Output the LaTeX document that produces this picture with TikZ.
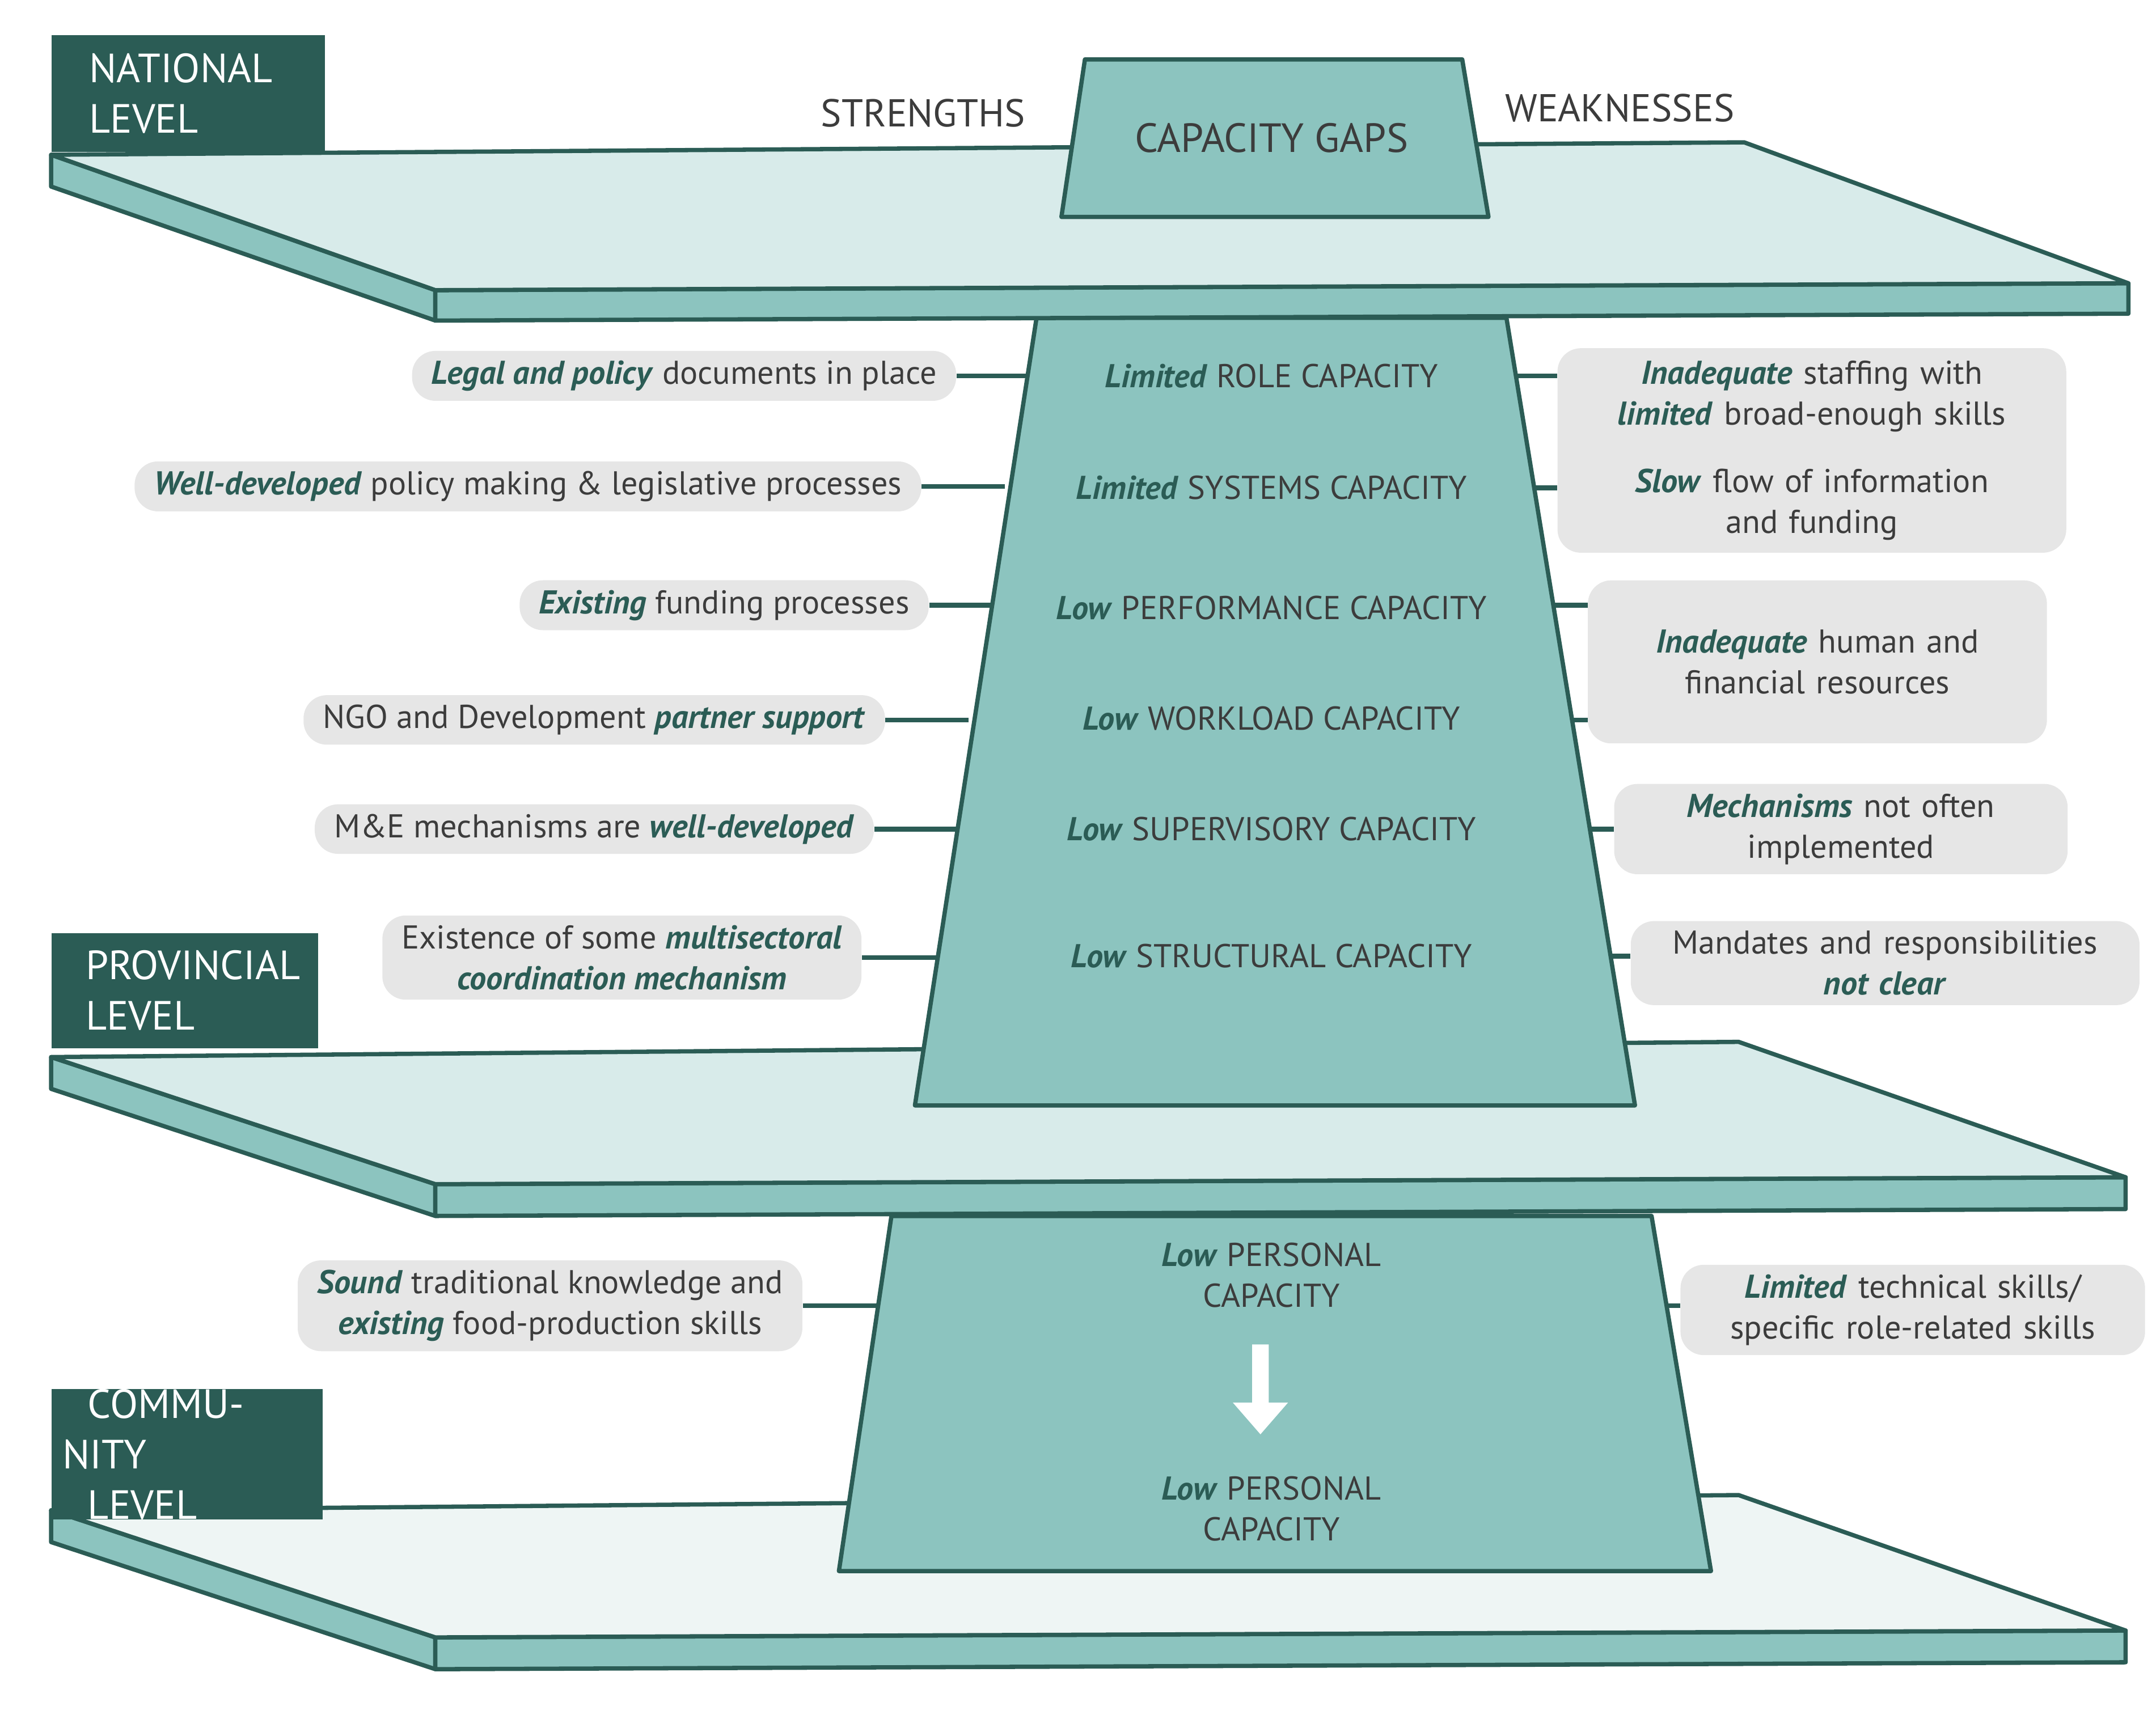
\documentclass[tikz,border=0pt]{standalone}
\usepackage{fontspec}
\setmainfont{PT Sans}
\usetikzlibrary{positioning, calc}
\definecolor{deepteal}{HTML}{2B5C55}
\definecolor{midteal}{HTML}{8CC4BF}
\definecolor{paleteal}{HTML}{D8EBEA}
\definecolor{whiteteal}{HTML}{EEF5F4}
\definecolor{pillgray}{HTML}{E6E6E6}
\definecolor{txtgray}{HTML}{3C3C3C}
\newcommand{\hl}[1]{\textcolor{deepteal}{\textbf{\textit{#1}}}}

\begin{document}
\begin{tikzpicture}[x=0.25mm, y=-0.25mm,
        font=\fontsize{17}{21}\selectfont,
        plate/.style={draw=deepteal, line width=2.2pt, line join=round},
        trap/.style={draw=deepteal, fill=midteal, line width=2.2pt, line join=round},
        pill/.style={fill=pillgray, rounded corners=12pt, text=txtgray, align=center, inner xsep=10pt, inner ysep=5pt},
        level/.style={fill=deepteal, text=white, align=left, font=\fontsize{21}{26}\selectfont, inner sep=0pt, anchor=north west},
        gaptext/.style={text=txtgray, align=center},
        link/.style={draw=deepteal, line width=2.5pt}
    ]
        \useasboundingbox (0,0) rectangle (1560,1244);

        % Provincial and community plates
        \foreach \t/\c in {765/paleteal, 1093/whiteteal}{
            \filldraw[plate, fill=midteal] (37,\t) -- (315,\t+92) -- (315,\t+115) -- (37,\t+23) -- cycle;
            \filldraw[plate, fill=midteal] (315,\t+92) -- (1538,\t+87) -- (1538,\t+110) -- (315,\t+115) -- cycle;
            \filldraw[plate, fill=\c] (37,\t) -- (1258,\t-11) -- (1538,\t+87) -- (315,\t+92) -- cycle;
        }

        % Strengths
        \node[pill] (s1) at (495,272) {\hl{Legal and policy} documents in place};
        \node[pill] (s2) at (382,352) {\hl{Well-developed} policy making \& legislative processes};
        \node[pill] (s3) at (524,438) {\hl{Existing} funding processes};
        \node[pill] (s4) at (430,521) {NGO and Development \hl{partner support}};
        \node[pill] (s5) at (430,600) {M\&E mechanisms are \hl{well-developed}};
        \node[pill] (s6) at (450,693) {Existence of some \hl{multisectoral}\\\hl{coordination mechanism}};
        \node[pill] (s7) at (398,945) {\hl{Sound} traditional knowledge and\\\hl{existing} food-production skills};

        % Weaknesses
        \node[pill, text width=85mm, minimum height=37mm] (w1) at (1311,326) {\hl{Inadequate} staffing with\\\hl{limited} broad-enough skills\\[14pt]\hl{Slow} flow of information\\and funding};
        \node[pill, text width=76mm, minimum height=29.5mm] (w2) at (1315,479) {\hl{Inadequate} human and\\financial resources};
        \node[pill, text width=75mm] (w3) at (1332,600) {\hl{Mechanisms} not often\\implemented};
        \node[pill, text width=85mm] (w4) at (1364,697) {Mandates and responsibilities\\\hl{not clear}};
        \node[pill, text width=77mm] (w5) at (1384,948) {\hl{Limited} technical skills/\\specific role-related skills};

        % Connectors, hidden under the trapezoids
        \foreach \s in {s1,s2,s3,s4,s5,s6,s7}
            \draw[link] (\s.east) -- ++(60,0);
        \foreach \w/\y in {w1/272, w1/353, w2/438, w2/521, w3/600, w4/692, w5/945}{
            \coordinate (e\y) at (\w.west |- 0,\y);
            \draw[link] (e\y) -- ++(-60,0);
        }

        % Trapezoids
        \filldraw[trap] (750,230) -- (1090,230) -- (1183,800) -- (662,800) -- cycle;
        \filldraw[trap] (645,880) -- (1195,880) -- (1238,1137) -- (607,1137) -- cycle;

        % National plate
        \filldraw[plate, fill=midteal] (37,112) -- (315,210) -- (315,232) -- (37,135) -- cycle;
        \filldraw[plate, fill=midteal] (315,210) -- (1540,205) -- (1540,227) -- (315,232) -- cycle;
        \filldraw[plate, fill=paleteal] (37,112) -- (1262,103) -- (1540,205) -- (315,210) -- cycle;
        \filldraw[trap] (785,43) -- (1058,43) -- (1077,157) -- (768,157) -- cycle;

        % Texts
        \node[gaptext, font=\fontsize{21}{26}\selectfont] (gaps) at (920,100) {CAPACITY GAPS};
        \node[gaptext, font=\fontsize{20}{24}\selectfont] (str) at (668,82) {STRENGTHS};
        \node[gaptext, font=\fontsize{20}{24}\selectfont] (wk) at (1172,78) {WEAKNESSES};
        \node[gaptext] (c1) at (920,272) {\hl{Limited} ROLE CAPACITY};
        \node[gaptext] (c2) at (920,353) {\hl{Limited} SYSTEMS CAPACITY};
        \node[gaptext] (c3) at (920,440) {\hl{Low} PERFORMANCE CAPACITY};
        \node[gaptext] (c4) at (920,520) {\hl{Low} WORKLOAD CAPACITY};
        \node[gaptext] (c5) at (920,600) {\hl{Low} SUPERVISORY CAPACITY};
        \node[gaptext] (c6) at (920,692) {\hl{Low} STRUCTURAL CAPACITY};
        \node[gaptext] (p1) at (920,923) {\hl{Low} PERSONAL\\CAPACITY};
        \node[gaptext] (p2) at (920,1092) {\hl{Low} PERSONAL\\CAPACITY};
        \fill[white] (906,973) -- (918,973) -- (918,1015) -- (932,1015) -- (912,1038) -- (892,1015) -- (906,1015) -- cycle;

        % Levels
        \node[level, minimum width=49.5mm, minimum height=21.2mm, text width=45mm] (nat) at (37,25) {\hspace*{13pt}NATIONAL\\\hspace*{13pt}LEVEL};
        \node[level, minimum width=48.2mm, minimum height=20.8mm, text width=45mm] (prov) at (37,675) {\hspace*{13pt}PROVINCIAL\\\hspace*{13pt}LEVEL};
        \node[level, minimum width=49mm, minimum height=21.2mm, text width=45mm] (comm) at (37,1005) {\hspace*{13pt}COMMUNITY\\\hspace*{13pt}LEVEL};
    \end{tikzpicture}
\end{document}
